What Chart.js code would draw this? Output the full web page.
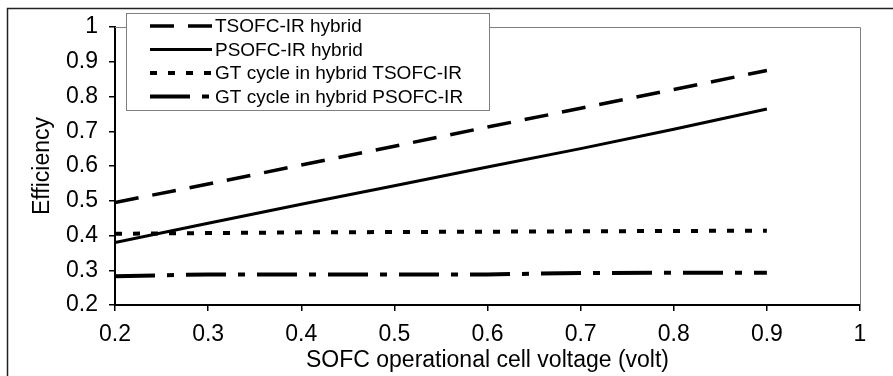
<!DOCTYPE html>
<html>
<head>
<meta charset="utf-8">
<script src="https://cdn.jsdelivr.net/npm/chart.js@4"></script>
<style>
  html, body { margin: 0; padding: 0; background: #fff; }
  canvas { display: block; }
</style>
</head>
<body>
<canvas id="chart" width="893" height="376"></canvas>
<script>
// cell voltage (volt) on the x axis
const voltage = [0.2, 0.3, 0.4, 0.5, 0.6, 0.7, 0.8, 0.9];

// efficiencies
const tsofcHybrid = [0.495, 0.548, 0.603, 0.657, 0.712, 0.766, 0.820, 0.875];
const psofcHybrid = [0.380, 0.435, 0.490, 0.543, 0.597, 0.650, 0.706, 0.764];
const gtTsofc = [0.405, 0.407, 0.409, 0.410, 0.411, 0.412, 0.413, 0.414];
const gtPsofc = [0.283, 0.288, 0.288, 0.288, 0.288, 0.292, 0.293, 0.293];

const seriesLabels = [
  'TSOFC-IR hybrid',
  'PSOFC-IR hybrid',
  'GT cycle in hybrid TSOFC-IR',
  'GT cycle in hybrid PSOFC-IR'
];

const FONT = '"Liberation Sans", Arial, sans-serif';
Chart.defaults.font.family = FONT;
Chart.defaults.color = '#000';

const toPoints = (ys) => ys.map((y, i) => ({ x: voltage[i], y: y }));

const line = (label, ys, width, dash) => ({
  label: label,
  data: toPoints(ys),
  borderColor: '#000',
  borderWidth: width,
  borderDash: dash,
  borderCapStyle: 'butt',
  pointRadius: 0,
  tension: 0,
  fill: false
});

// gray top/right frame of the plot plus the outer border lines
const frame = {
  id: 'frame',
  beforeDatasetsDraw(chart) {
    const { ctx, chartArea: a } = chart;
    ctx.save();
    ctx.strokeStyle = '#808080';
    ctx.lineWidth = 1;
    ctx.beginPath();
    ctx.moveTo(a.left, a.top + 0.5);
    ctx.lineTo(a.right + 0.5, a.top + 0.5);
    ctx.lineTo(a.right + 0.5, a.bottom);
    ctx.stroke();

    ctx.strokeStyle = '#222';
    ctx.lineWidth = 1.5;
    ctx.beginPath();
    ctx.moveTo(7.5, chart.height);
    ctx.lineTo(7.5, 8.5);
    ctx.lineTo(chart.width, 8.5);
    ctx.stroke();
    ctx.restore();
  }
};

// boxed legend sitting over the top of the plot
const boxLegend = {
  id: 'boxLegend',
  afterDraw(chart) {
    const ctx = chart.ctx;
    ctx.save();
    ctx.fillStyle = '#fff';
    ctx.fillRect(126, 13, 363, 97);
    ctx.strokeStyle = '#808080';
    ctx.lineWidth = 1;
    ctx.strokeRect(126.5, 13.5, 363, 97);

    ctx.font = '19px ' + FONT;
    ctx.textBaseline = 'middle';
    ctx.fillStyle = '#000';
    chart.data.datasets.forEach((ds, i) => {
      const y = 26 + i * 23.5;
      ctx.beginPath();
      ctx.setLineDash(ds.borderDash || []);
      ctx.lineWidth = ds.borderWidth;
      ctx.strokeStyle = ds.borderColor;
      ctx.lineCap = 'butt';
      ctx.moveTo(150, y);
      ctx.lineTo(212, y);
      ctx.stroke();
      ctx.setLineDash([]);
      ctx.fillText(ds.label, 215, y + 1);
    });
    ctx.restore();
  }
};

const tickFmt = (v) => String(+Number(v).toFixed(1));

new Chart(document.getElementById('chart'), {
  type: 'line',
  data: {
    datasets: [
      line(seriesLabels[0], tsofcHybrid, 3.5, [24, 14]),
      line(seriesLabels[1], psofcHybrid, 3, []),
      line(seriesLabels[2], gtTsofc, 4, [7, 11]),
      line(seriesLabels[3], gtPsofc, 4, [40, 12, 7, 12])
    ]
  },
  options: {
    responsive: false,
    animation: false,
    devicePixelRatio: 1,
    layout: { padding: { left: 0, top: 27, right: 33, bottom: 0 } },
    plugins: {
      legend: { display: false },
      tooltip: { enabled: false }
    },
    scales: {
      x: {
        type: 'linear',
        min: 0.2,
        max: 1,
        afterFit(scale) { scale.height = 71; },
        ticks: {
          stepSize: 0.1,
          padding: 10,
          maxRotation: 0,
          font: { size: 23 },
          callback: tickFmt
        },
        grid: {
          drawOnChartArea: false,
          drawTicks: true,
          tickLength: 6,
          color: '#000',
          lineWidth: 1.5
        },
        border: { display: true, color: '#000', width: 2 },
        title: {
          display: true,
          text: 'SOFC operational cell voltage (volt)',
          font: { size: 23 },
          padding: { top: 0, bottom: 2 }
        }
      },
      y: {
        type: 'linear',
        min: 0.2,
        max: 1,
        afterFit(scale) { scale.width = 115; },
        ticks: {
          stepSize: 0.1,
          padding: 11,
          font: { size: 23 },
          callback: tickFmt
        },
        grid: {
          drawOnChartArea: false,
          drawTicks: true,
          tickLength: 6,
          color: '#000',
          lineWidth: 1.5
        },
        border: { display: true, color: '#000', width: 2 },
        title: {
          display: true,
          text: 'Efficiency',
          font: { size: 23 },
          padding: { top: 29, bottom: 0 }
        }
      }
    }
  },
  plugins: [frame, boxLegend]
});
</script>
</body>
</html>
